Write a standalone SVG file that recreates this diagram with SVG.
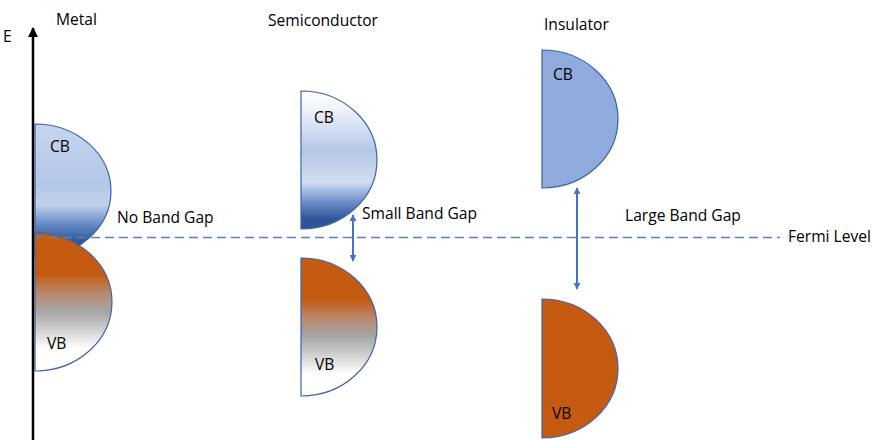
<svg xmlns="http://www.w3.org/2000/svg" width="876" height="440" viewBox="0 0 876 440">
  <style>
    text { font-family: "Open Sans", "Liberation Sans", sans-serif; font-size: 15.6px; fill: #000; }
    .band { stroke: #3c64a4; stroke-width: 1.2; }
    .gap { stroke: #4472c4; stroke-width: 2; fill: none; }
    .fermi { stroke: #5b80c0; stroke-width: 1.3; stroke-dasharray: 9 5; fill: none; }
  </style>
  <defs>
    <linearGradient id="metalCB" x1="0" y1="0" x2="0" y2="1">
      <stop offset="0" stop-color="#c6d5ee"/>
      <stop offset="0.45" stop-color="#b4c7e7"/>
      <stop offset="0.6" stop-color="#c3d2ec"/>
      <stop offset="0.76" stop-color="#5f86c2"/>
      <stop offset="0.88" stop-color="#2f5597"/>
      <stop offset="1" stop-color="#2f5597"/>
    </linearGradient>
    <linearGradient id="semiCB" x1="0" y1="0" x2="0" y2="1">
      <stop offset="0" stop-color="#ffffff"/>
      <stop offset="0.14" stop-color="#eef2fa"/>
      <stop offset="0.43" stop-color="#b4c7e7"/>
      <stop offset="0.66" stop-color="#d2ddf1"/>
      <stop offset="0.8" stop-color="#6e90c9"/>
      <stop offset="0.93" stop-color="#2f5597"/>
      <stop offset="1" stop-color="#2f5597"/>
    </linearGradient>
    <linearGradient id="valence" x1="0" y1="0" x2="0" y2="1">
      <stop offset="0" stop-color="#c55a11"/>
      <stop offset="0.3" stop-color="#c55a11"/>
      <stop offset="0.43" stop-color="#b9876a"/>
      <stop offset="0.57" stop-color="#a6a6a6"/>
      <stop offset="0.72" stop-color="#d6d6d6"/>
      <stop offset="0.84" stop-color="#ffffff"/>
      <stop offset="1" stop-color="#ffffff"/>
    </linearGradient>
    <marker id="axisHead" viewBox="0 0 10 10" refX="9" refY="5" markerWidth="4" markerHeight="4" orient="auto" markerUnits="strokeWidth">
      <path d="M0,0 L10,5 L0,10 Z" fill="#000"/>
    </marker>
    <marker id="gapHead" viewBox="0 0 10 10" refX="9" refY="5" markerWidth="3.5" markerHeight="3.5" orient="auto-start-reverse" markerUnits="strokeWidth">
      <path d="M0,0 L10,5 L0,10 Z" fill="#4472c4"/>
    </marker>
  </defs>

  <!-- Metal -->
  <g id="metal-cb">
    <path class="band" d="M35,124 A76,67 0 0 1 35,258 Z" fill="url(#metalCB)"/>
    <text x="50" y="152">CB</text>
  </g>
  <g id="metal-vb">
    <path class="band" d="M35,233 A77,69 0 0 1 35,371 Z" fill="url(#valence)"/>
    <text x="47" y="349">VB</text>
  </g>

  <!-- Semiconductor -->
  <g id="semi-cb">
    <path class="band" d="M301,91 A76,69 0 0 1 301,229 Z" fill="url(#semiCB)"/>
    <text x="314" y="123">CB</text>
  </g>
  <g id="semi-vb">
    <path class="band" d="M301,258 A76,69 0 0 1 301,396 Z" fill="url(#valence)"/>
    <text x="315" y="370">VB</text>
  </g>

  <!-- Insulator -->
  <g id="ins-cb">
    <path class="band" d="M542,50 A76,69 0 0 1 542,188 Z" fill="#8faadc"/>
    <text x="553" y="80">CB</text>
  </g>
  <g id="ins-vb">
    <path class="band" d="M542,299 A76,69.5 0 0 1 542,438 Z" fill="#c55a11"/>
    <text x="552" y="419">VB</text>
  </g>

  <!-- Connectors: energy axis, Fermi level and band-gap arrows -->
  <g id="connectors">
    <line x1="33" y1="440" x2="33" y2="28" stroke="#000" stroke-width="2.5" marker-end="url(#axisHead)"/>
    <line class="fermi" x1="35" y1="237.5" x2="780" y2="237.5"/>
    <line class="gap" x1="353" y1="215" x2="353" y2="261" marker-start="url(#gapHead)" marker-end="url(#gapHead)"/>
    <line class="gap" x1="577" y1="188" x2="577" y2="289" marker-start="url(#gapHead)" marker-end="url(#gapHead)"/>
  </g>

  <!-- Labels -->
  <g id="labels">
    <text x="3" y="42">E</text>
    <text x="56" y="25">Metal</text>
    <text x="268" y="26">Semiconductor</text>
    <text x="544" y="30">Insulator</text>
    <text x="117" y="223">No Band Gap</text>
    <text x="362" y="219">Small Band Gap</text>
    <text x="625" y="221">Large Band Gap</text>
    <text x="788" y="242">Fermi Level</text>
  </g>
</svg>
